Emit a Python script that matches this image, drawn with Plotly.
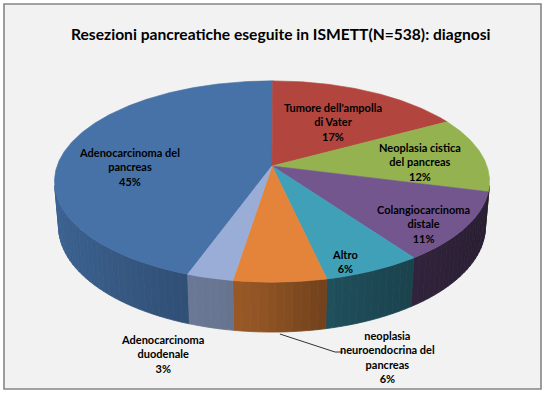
import numpy as np
import plotly.graph_objects as go

# ---------------- data ----------------
categories = [
    "Adenocarcinoma del pancreas",
    "Tumore dell'ampolla di Vater",
    "Neoplasia cistica del pancreas",
    "Colangiocarcinoma distale",
    "Altro",
    "neoplasia neuroendocrina del pancreas",
    "Adenocarcinoma duodenale",
]
label_text = [
    "Adenocarcinoma del<br>pancreas",
    "Tumore dell'ampolla<br>di Vater",
    "Neoplasia cistica<br>del pancreas",
    "Colangiocarcinoma<br>distale",
    "Altro",
    "neoplasia<br>neuroendocrina del<br>pancreas",
    "Adenocarcinoma<br>duodenale",
]
# estimated case counts (N=538) consistent with the printed percentages
values = [240, 91, 65, 60, 34, 32, 16]
title_text = "Resezioni pancreatiche eseguite in ISMETT(N=538): diagnosi"

# ---------------- style ----------------
colors = ["#4672A8", "#B2463F", "#94B250", "#74568F", "#3FA0B8", "#E3843A", "#9AADD7"]
label_pos = [(129, 167), (333, 122), (420, 162), (423, 224), (345, 261), (387, 357), (162, 354)]
START = 199.6          # first slice angle (deg, clockwise from top)
PHI = np.radians(27.2) # elevation of view
DIST = 5.766
FOC = 1239.5
THICK = 0.237
CX, CY = 272.0, 166.0
FONT = "Lato, 'Open Sans', sans-serif"


def proj(theta_deg, r=1.0, yy=0.0):
    t = np.radians(np.asarray(theta_deg, dtype=float))
    X = r * np.sin(t)
    Z = r * np.cos(t)
    yc = yy * np.cos(PHI) + Z * np.sin(PHI)
    depth = -yy * np.sin(PHI) + Z * np.cos(PHI) + DIST
    return CX + FOC * X / depth, CY - FOC * yc / depth


def hex2rgb(h):
    h = h.lstrip("#")
    return [int(h[i:i + 2], 16) for i in (0, 2, 4)]


def shade(h, f):
    r, g, b = hex2rgb(h)
    return "rgb(%d,%d,%d)" % (min(255, r * f), min(255, g * f), min(255, b * f))


shade_ang = [95, 120, 145, 160, 170, 185, 200, 230, 265]
shade_fac = [0.34, 0.37, 0.42, 0.47, 0.52, 0.66, 0.70, 0.82, 0.88]

total = float(sum(values))
spans = [v / total * 360.0 for v in values]
starts = START + np.concatenate([[0], np.cumsum(spans)[:-1]])
ends = starts + np.array(spans)

vis_c = -1.0 / (DIST * np.cos(PHI))
vis_lo = np.degrees(np.arccos(vis_c))
vis_hi = 360.0 - vis_lo

fig = go.Figure()

# side walls
for i in range(len(values)):
    for off in (0.0, 360.0, -360.0):
        lo = max(starts[i], vis_lo + off)
        hi = min(ends[i], vis_hi + off)
        if hi <= lo:
            continue
        n = max(1, int(np.ceil((hi - lo) / 2.0)))
        edges = np.linspace(lo, hi, n + 1)
        for k in range(n):
            a0, a1 = edges[k], edges[k + 1]
            th = np.linspace(a0, a1, 4)
            xt, yt = proj(th)
            xb, yb = proj(th[::-1], yy=-THICK)
            xs = np.concatenate([xt, xb, xt[:1]])
            ys = np.concatenate([yt, yb, yt[:1]])
            mid = ((a0 + a1) / 2.0) % 360.0
            f = float(np.interp(mid, shade_ang, shade_fac))
            c = shade(colors[i], f)
            fig.add_trace(go.Scatter(x=xs, y=ys, mode="lines", fill="toself",
                                     fillcolor=c, line=dict(color=c, width=0.8),
                                     hoverinfo="skip", showlegend=False))

# top face
for i in range(len(values)):
    th = np.linspace(starts[i], ends[i], max(3, int(spans[i] * 2)))
    xa, ya = proj(th)
    xs = np.concatenate([[CX], xa, [CX]])
    ys = np.concatenate([[CY], ya, [CY]])
    fig.add_trace(go.Scatter(x=xs, y=ys, mode="lines", fill="toself",
                             fillcolor=colors[i], line=dict(color=colors[i], width=0.6),
                             hoverinfo="skip", showlegend=False, name=categories[i]))

# leader line for the neuroendocrine slice
ni = 5
mid_n = (starts[ni] + ends[ni]) / 2.0
lx, ly = proj(mid_n, yy=-THICK)
lx0, ly0 = label_pos[ni]
fig.add_trace(go.Scatter(x=[float(lx), lx0 - 52, lx0 - 44], y=[float(ly) + 2, ly0 - 5, ly0 - 5],
                         mode="lines", line=dict(color="#000000", width=0.8),
                         hoverinfo="skip", showlegend=False))

annotations = []
for i in range(len(values)):
    pct = "%d%%" % round(values[i] / total * 100)
    annotations.append(dict(x=label_pos[i][0], y=label_pos[i][1], xref="x", yref="y",
                            text="<b>%s<br>%s</b>" % (label_text[i], pct),
                            showarrow=False, align="center",
                            font=dict(family=FONT, size=11, color="#000000"),
                            xanchor="center", yanchor="middle"))
annotations.append(dict(x=281, y=34, xref="x", yref="y", text="<b>%s</b>" % title_text,
                        showarrow=False, font=dict(family=FONT, size=15.6, color="#000000"),
                        xanchor="center", yanchor="middle"))

fig.update_layout(
    width=548, height=398,
    margin=dict(l=0, r=0, t=0, b=0),
    paper_bgcolor="#FFFFFF", plot_bgcolor="#FFFFFF",
    xaxis=dict(range=[0, 548], visible=False, fixedrange=True),
    yaxis=dict(range=[398, 0], visible=False, fixedrange=True),
    shapes=[dict(type="rect", xref="x", yref="y", x0=4, y0=4, x1=541, y1=389,
                 fillcolor="#F2F2F2", line=dict(color="#858585", width=1.6), layer="below")],
    annotations=annotations,
    showlegend=False,
)

fig.write_html("out.html", config={"displayModeBar": False},
               post_script="document.body.style.margin='0';document.body.style.padding='0';")
